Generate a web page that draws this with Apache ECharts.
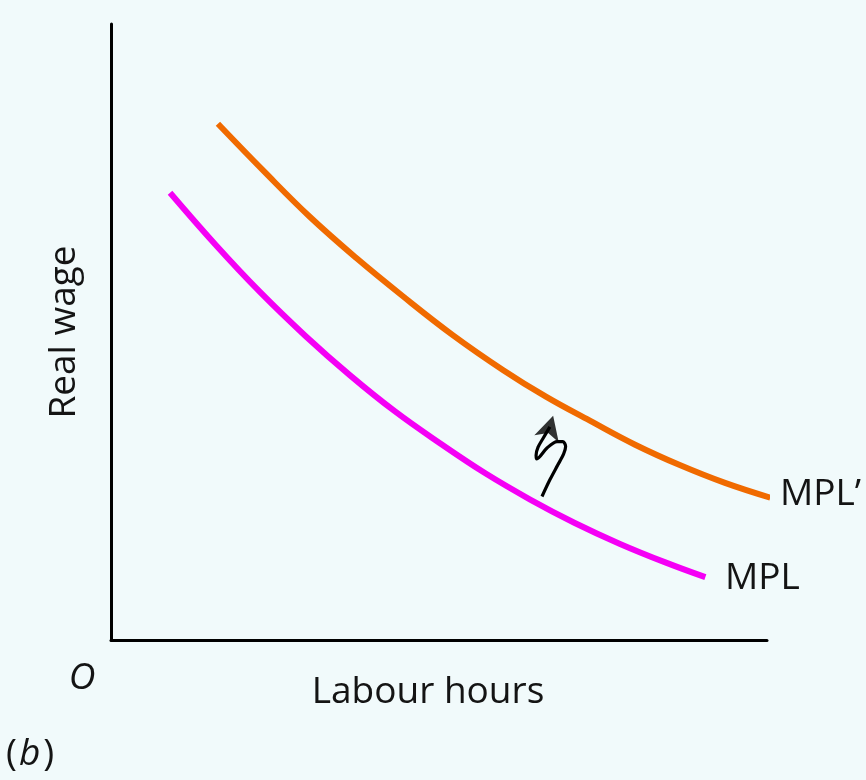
<!DOCTYPE html>
<html><head><meta charset="utf-8">
<script src="https://cdn.jsdelivr.net/npm/echarts@6/dist/echarts.min.js"></script>
<style>html,body{margin:0;padding:0;background:#f1fafb;}#c{width:866px;height:780px;}</style>
</head><body><div id="c"></div>
<script>
// Labour hours (x) and real wage (y), arbitrary units 0..10
const mplPrimeX = [1.63, 2.33, 3.03, 3.74, 4.45, 5.21, 5.98, 6.63, 7.30, 7.99, 8.67, 9.36, 10.05];
const mplPrimeY = [8.38, 7.61, 6.87, 6.20, 5.58, 4.95, 4.38, 3.95, 3.56, 3.17, 2.84, 2.55, 2.31];
const mplX = [0.90, 1.59, 2.27, 2.96, 3.64, 4.33, 5.02, 5.70, 6.39, 7.07, 7.76, 8.45, 9.06];
const mplY = [7.26, 6.42, 5.65, 4.94, 4.30, 3.71, 3.19, 2.71, 2.28, 1.90, 1.56, 1.26, 1.02];
const arrowX = [6.57, 6.69, 6.81, 6.90, 6.93, 6.89, 6.80, 6.65, 6.49, 6.48, 6.51, 6.59, 6.69];
const arrowY = [2.33, 2.60, 2.84, 3.02, 3.14, 3.22, 3.22, 3.12, 2.94, 3.00, 3.13, 3.28, 3.46];
const arrowHead = [6.74, 3.64];
const labels = { x: 'Labour hours', y: 'Real wage', origin: 'O', panel: 'b', s1: 'MPL\u2019', s2: 'MPL' };

const zip = (a, b) => a.map((v, i) => [v, b[i]]);
const font = '"Open Sans", "Noto Sans", sans-serif';
const txt = '#141414';
const fs = 37;

const chart = echarts.init(document.getElementById('c'));
chart.setOption({
  backgroundColor: '#f1fafb',
  animation: false,
  grid: { left: 111, top: 24, right: 99, bottom: 140 },
  xAxis: { type: 'value', min: 0, max: 10, axisLine: { show: true, lineStyle: { color: '#000', width: 3 } },
    axisTick: { show: false }, axisLabel: { show: false }, splitLine: { show: false } },
  yAxis: { type: 'value', min: 0, max: 10, axisLine: { show: true, lineStyle: { color: '#000', width: 3 } },
    axisTick: { show: false }, axisLabel: { show: false }, splitLine: { show: false } },
  series: [
    { type: 'line', data: zip(mplPrimeX, mplPrimeY), smooth: 0.4, showSymbol: false, clip: false,
      lineStyle: { color: '#f06a00', width: 6, cap: 'butt' } },
    { type: 'line', data: zip(mplX, mplY), smooth: 0.4, showSymbol: false, clip: false,
      lineStyle: { color: '#f500f5', width: 6, cap: 'butt' } },
    { type: 'line', data: zip(arrowX, arrowY), smooth: 0.3, showSymbol: false, clip: false,
      lineStyle: { color: '#000', width: 3.2 } },
    { type: 'scatter', data: [arrowHead], symbol: 'arrow', symbolSize: [19, 24], symbolRotate: -16,
      itemStyle: { color: '#000' } }
  ],
  graphic: [
    { type: 'text', left: 780, top: 476, style: { text: labels.s1, font: fs + 'px ' + font, fill: txt } },
    { type: 'text', left: 725, top: 560, style: { text: labels.s2, font: fs + 'px ' + font, fill: txt } },
    { type: 'text', x: 428, y: 692, style: { text: labels.x, font: fs + 'px ' + font, fill: txt, align: 'center', verticalAlign: 'middle' } },
    { type: 'text', x: 64, y: 332, rotation: Math.PI / 2, style: { text: labels.y, font: fs + 'px ' + font, fill: txt, align: 'center', verticalAlign: 'middle' } },
    { type: 'text', x: 82, y: 678, style: { text: labels.origin, font: 'italic ' + fs + 'px ' + font, fill: txt, align: 'center', verticalAlign: 'middle' } },
    { type: 'text', left: 6, top: 736, style: { text: '{p|(}{i|' + labels.panel + '}{p|)}', font: fs + 'px ' + font, fill: txt,
      rich: { p: { fontSize: fs, fontFamily: font, color: txt },
              i: { fontStyle: 'italic', fontSize: fs, fontFamily: font, color: txt, padding: [0, 3, 0, 2] } } } }
  ]
});
</script></body></html>
